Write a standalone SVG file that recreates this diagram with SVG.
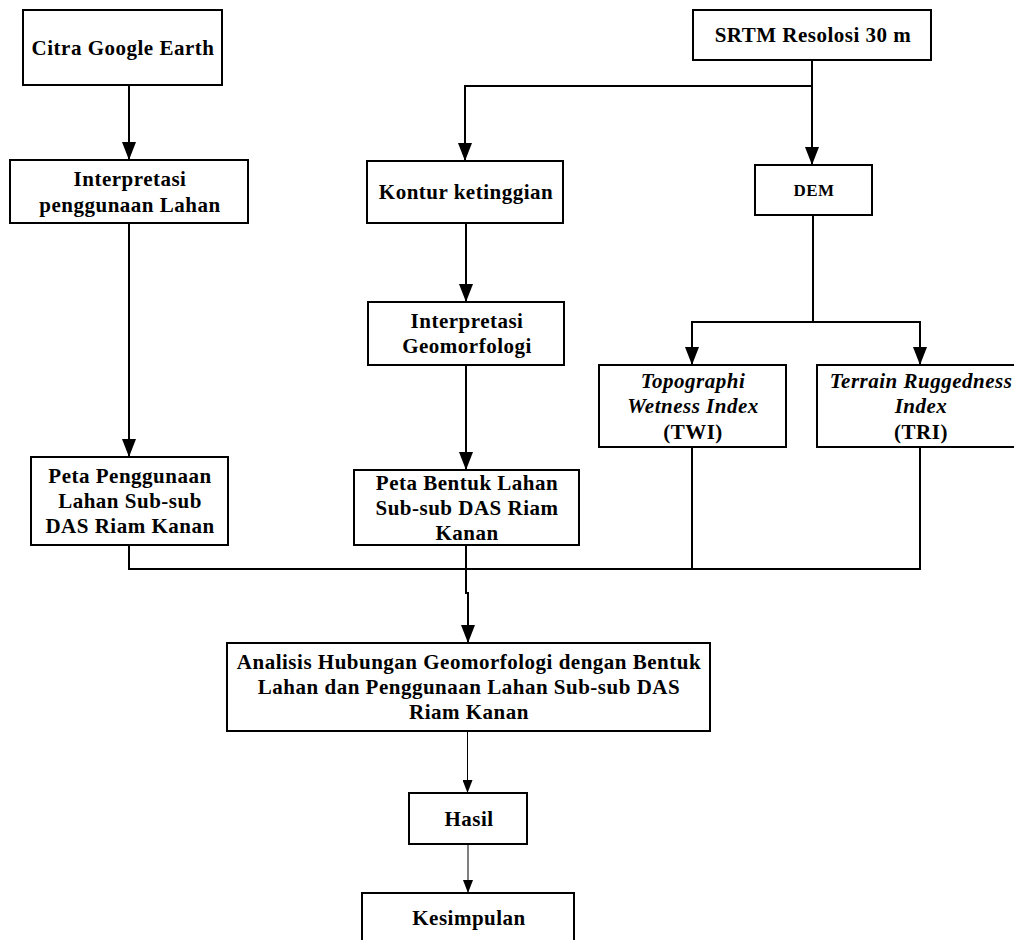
<svg xmlns="http://www.w3.org/2000/svg" width="1014" height="940" viewBox="0 0 1014 940">
<style>
  .box { fill: #fff; stroke: #000; stroke-width: 2; }
  .t { font-family: "Liberation Serif", "Times New Roman", serif; font-weight: bold; font-size: 21px; letter-spacing: 0.5px; text-anchor: middle; fill: #000; }
  .i { font-style: italic; }
  .sm { font-size: 17px; }
  .c { fill: none; stroke: #000; stroke-width: 2; }
  .ct { fill: none; stroke: #000; stroke-width: 1; }
</style>
<defs>
  <marker id="ah" markerUnits="userSpaceOnUse" markerWidth="18" markerHeight="14" viewBox="0 0 18 14" refX="18" refY="7" orient="auto">
    <path d="M0,0 L18,7 L0,14 z" fill="#000"/>
  </marker>
  <marker id="ahs" markerUnits="userSpaceOnUse" markerWidth="13" markerHeight="10" viewBox="0 0 13 10" refX="13" refY="5" orient="auto">
    <path d="M0,0 L13,5 L0,10 z" fill="#000"/>
  </marker>
</defs>
<rect width="1014" height="940" fill="#fff"/>

<g id="connectors">
  <path class="c" d="M129,85 V160" marker-end="url(#ah)"/>
  <path class="c" d="M129,223 V457" marker-end="url(#ah)"/>
  <path class="c" d="M812,60 V165" marker-end="url(#ah)"/>
  <path class="c" d="M812,86 H465 V161" marker-end="url(#ah)"/>
  <path class="c" d="M466,223 V302" marker-end="url(#ah)"/>
  <path class="c" d="M466,365 V470" marker-end="url(#ah)"/>
  <path class="c" d="M813,215 V322"/>
  <path class="c" d="M813,322 H692 V365" marker-end="url(#ah)"/>
  <path class="c" d="M813,322 H920 V365" marker-end="url(#ah)"/>
  <path class="c" d="M129,545 V569 H920 V447"/>
  <path class="c" d="M692,447 V569"/>
  <path class="c" d="M466,545 V593 H468 V643" marker-end="url(#ah)"/>
  <path class="ct" d="M467.5,731 V793" marker-end="url(#ahs)"/>
  <path class="ct" d="M468,844 V893" marker-end="url(#ahs)"/>
</g>

<g id="citra">
  <rect class="box" x="23" y="10" width="199" height="75"/>
  <text class="t" x="123" y="55">Citra Google Earth</text>
</g>
<g id="srtm">
  <rect class="box" x="693" y="10" width="238" height="50"/>
  <text class="t" x="813" y="42">SRTM Resolosi 30 m</text>
</g>
<g id="interpretasi-lahan">
  <rect class="box" x="10" y="160" width="238" height="63"/>
  <text class="t" x="130" y="186">Interpretasi</text>
  <text class="t" x="130" y="212">penggunaan Lahan</text>
</g>
<g id="kontur">
  <rect class="box" x="367" y="161" width="196" height="62"/>
  <text class="t" x="466" y="199">Kontur ketinggian</text>
</g>
<g id="dem">
  <rect class="box" x="755" y="165" width="117" height="50"/>
  <text class="t sm" x="814" y="196">DEM</text>
</g>
<g id="interpretasi-geomorfologi">
  <rect class="box" x="368" y="302" width="196" height="63"/>
  <text class="t" x="467" y="328">Interpretasi</text>
  <text class="t" x="467" y="353">Geomorfologi</text>
</g>
<g id="twi">
  <rect class="box" x="599" y="365" width="187" height="82"/>
  <text class="t i" x="693" y="388">Topographi</text>
  <text class="t i" x="693" y="413">Wetness Index</text>
  <text class="t" x="693" y="439">(TWI)</text>
</g>
<g id="tri">
  <rect class="box" x="817" y="365" width="206" height="82"/>
  <text class="t i" x="921" y="388">Terrain Ruggedness</text>
  <text class="t i" x="921" y="413">Index</text>
  <text class="t" x="921" y="439">(TRI)</text>
</g>
<g id="peta-penggunaan">
  <rect class="box" x="31" y="457" width="197" height="88"/>
  <text class="t" x="130" y="483">Peta Penggunaan</text>
  <text class="t" x="130" y="508">Lahan Sub-sub</text>
  <text class="t" x="130" y="533">DAS Riam Kanan</text>
</g>
<g id="peta-bentuk">
  <rect class="box" x="354" y="470" width="225" height="75"/>
  <text class="t" x="467" y="490">Peta Bentuk Lahan</text>
  <text class="t" x="467" y="515">Sub-sub DAS Riam</text>
  <text class="t" x="467" y="540">Kanan</text>
</g>
<g id="analisis">
  <rect class="box" x="227" y="643" width="483" height="88"/>
  <text class="t" x="469" y="669">Analisis Hubungan Geomorfologi dengan Bentuk</text>
  <text class="t" x="469" y="694">Lahan dan Penggunaan Lahan Sub-sub DAS</text>
  <text class="t" x="469" y="719">Riam Kanan</text>
</g>
<g id="hasil">
  <rect class="box" x="409" y="793" width="118" height="51"/>
  <text class="t" x="469" y="826">Hasil</text>
</g>
<g id="kesimpulan">
  <rect class="box" x="362" y="893" width="212" height="60"/>
  <text class="t" x="469" y="925">Kesimpulan</text>
</g>
</svg>
